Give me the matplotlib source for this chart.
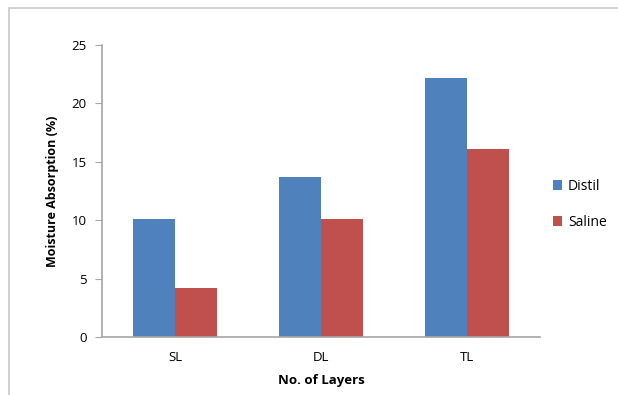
import numpy as np
import matplotlib.pyplot as plt
from matplotlib.patches import Rectangle

layers = ["SL", "DL", "TL"]
distil = [10.1, 13.7, 22.2]
saline = [4.2, 10.1, 16.1]

blue = "#4f81bd"
red = "#c0504d"
plt.rcParams['font.family'] = ['Open Sans', 'DejaVu Sans']

fig = plt.figure(figsize=(6.18, 3.95), dpi=100)
# chart frame (cut on right/bottom like the screenshot)
fig.patches.append(Rectangle((9/618, -0.1), 1.2, 1 - 8/395 + 0.1, transform=fig.transFigure,
                             fill=False, edgecolor="#c8c8c8", linewidth=1.2))

ax = fig.add_axes([102/618, 58/395, 438/618, 292/395])
x = np.arange(len(layers))
w = 1/3.5
ax.bar(x - w/2, distil, w, color=blue, label="Distil")
ax.bar(x + w/2, saline, w, color=red, label="Saline")

ax.set_xlim(-0.5, 2.5)
ax.set_ylim(0, 25)
ax.set_yticks(range(0, 26, 5))
ax.set_xticks(x)
ax.set_xticklabels(layers)
for s in ["top", "right"]:
    ax.spines[s].set_visible(False)
for s in ["left", "bottom"]:
    ax.spines[s].set_color("#a6a6a6")
    ax.spines[s].set_linewidth(1.2)
ax.tick_params(axis="y", length=5, color="#a6a6a6", labelsize=9.5, pad=6)
ax.tick_params(axis="x", length=0, labelsize=9.5, pad=10)

ax.set_ylabel("Moisture Absorption (%)", fontsize=9, fontweight="bold", labelpad=9)
ax.set_xlabel("No. of Layers", fontsize=9.5, fontweight="bold", labelpad=7)

ax.legend(loc="center left", bbox_to_anchor=(1.0, 0.455), frameon=False, fontsize=10,
          handlelength=0.7, handleheight=0.7, handletextpad=0.4, labelspacing=1.5)

fig.savefig("out.png", dpi=100)
